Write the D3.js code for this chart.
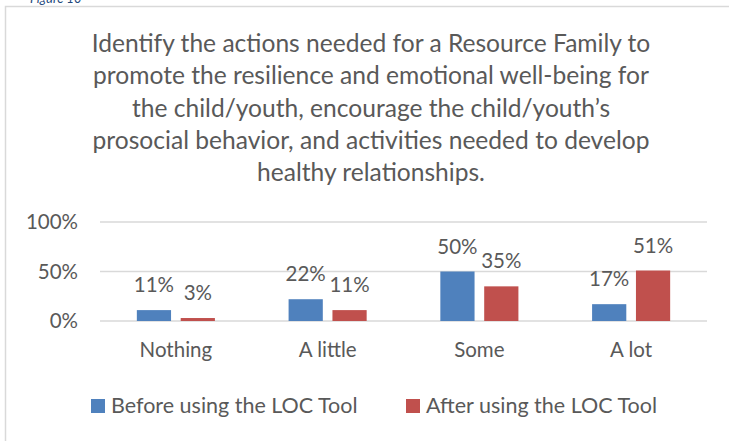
<!DOCTYPE html>
<html>
<head>
<meta charset="utf-8">
<script src="https://cdn.jsdelivr.net/npm/d3@7"></script>
<style>
  body { margin: 0; background: #fff; }
  text { font-family: Lato, "Open Sans", sans-serif; fill: #595959; }
</style>
</head>
<body>
<div id="chart"></div>
<script>
// chart data
var categories = ["Nothing", "A little", "Some", "A lot"];
var seriesNames = ["Before using the LOC Tool", "After using the LOC Tool"];
var beforeValues = [0.11, 0.22, 0.50, 0.17];
var afterValues = [0.03, 0.11, 0.35, 0.51];
var yTicks = [0, 0.5, 1];
var titleLines = [
  "Identify the actions needed for a Resource Family to",
  "promote the resilience and emotional well-being for",
  "the child/youth, encourage the child/youth\u2019s",
  "prosocial behavior, and activities needed to develop",
  "healthy relationships."
];
var colors = ["#4F81BD", "#C0504D"];

var svgWidth = 729;
var svgHeight = 441;

var margin = { top: 222, left: 100, right: 22, bottom: 120 };
var width = svgWidth - margin.left - margin.right;
var height = 321 - margin.top;

var svg = d3.select("#chart")
  .append("svg")
  .attr("width", svgWidth)
  .attr("height", svgHeight);

// chart area border
svg.append("rect")
  .attr("x", 5.5)
  .attr("y", 6.5)
  .attr("width", 760)
  .attr("height", 460)
  .attr("fill", "#fff")
  .attr("stroke", "#D9D9D9")
  .attr("stroke-width", 1.5);

// figure caption above the chart, cut off by the page edge as in the source
svg.append("text")
  .attr("x", 30)
  .attr("y", 3)
  .style("fill", "#1F497D")
  .style("font-style", "italic")
  .style("font-size", "13px")
  .text("Figure 10");

// Title
var title = svg.append("g").attr("class", "title");
var titleText = title.selectAll("text")
  .data(titleLines)
  .enter()
  .append("text")
  .attr("x", 371)
  .attr("y", (d, i) => 52 + i * 32.3)
  .attr("text-anchor", "middle")
  .style("font-size", "24px")
  .text(d => d);

// fit title width to the reference (first line spans ~559px)
var firstLen = titleText.node().getComputedTextLength();
titleText.style("font-size", (24 * 559 / firstLen) + "px");

var chartGroup = svg.append("g")
  .attr("transform", `translate(${margin.left}, ${margin.top})`);

// scales
var x0 = d3.scaleBand()
  .domain(categories)
  .range([0, width])
  .padding(0);

var x1 = d3.scaleBand()
  .domain(seriesNames)
  .range([0, x0.bandwidth()])
  .paddingInner(0.22)
  .paddingOuter(0.84);

var y = d3.scaleLinear()
  .domain([0, 1])
  .range([height, 0]);

// gridlines
chartGroup.append("g")
  .selectAll("line")
  .data(yTicks)
  .enter()
  .append("line")
  .attr("x1", 0)
  .attr("x2", width)
  .attr("y1", d => y(d))
  .attr("y2", d => y(d))
  .attr("stroke", "#D9D9D9")
  .attr("stroke-width", 1.5);

// y axis
var leftAxis = d3.axisLeft(y)
  .tickValues(yTicks)
  .tickFormat(d3.format(".0%"))
  .tickSize(0)
  .tickPadding(22);

var yAxisG = chartGroup.append("g").call(leftAxis);
yAxisG.select(".domain").remove();
yAxisG.selectAll("text")
  .style("font-size", "20.5px")
  .style("font-family", "Lato, sans-serif")
  .style("fill", "#595959");

// x axis labels
var bottomAxis = d3.axisBottom(x0).tickSize(0).tickPadding(21);
var xAxisG = chartGroup.append("g")
  .attr("transform", `translate(0, ${height})`)
  .call(bottomAxis);
xAxisG.select(".domain").remove();
xAxisG.selectAll("text")
  .style("font-size", "20.5px")
  .style("font-family", "Lato, sans-serif")
  .style("fill", "#595959");

// bars
var rows = categories.map((c, i) => ({
  category: c,
  values: [
    { name: seriesNames[0], value: beforeValues[i], color: colors[0] },
    { name: seriesNames[1], value: afterValues[i], color: colors[1] }
  ]
}));

var groups = chartGroup.selectAll(".cat")
  .data(rows)
  .enter()
  .append("g")
  .attr("class", "cat")
  .attr("transform", d => `translate(${x0(d.category)}, 0)`);

groups.selectAll("rect")
  .data(d => d.values)
  .enter()
  .append("rect")
  .attr("x", d => x1(d.name))
  .attr("y", d => y(d.value))
  .attr("width", x1.bandwidth())
  .attr("height", d => height - y(d.value))
  .attr("fill", d => d.color);

// data labels
groups.selectAll(".lbl")
  .data(d => d.values)
  .enter()
  .append("text")
  .attr("class", "lbl")
  .attr("x", d => x1(d.name) + x1.bandwidth() / 2)
  .attr("y", d => y(d.value) - 18)
  .attr("text-anchor", "middle")
  .style("font-size", "20.5px")
  .text(d => d3.format(".0%")(d.value));

// legend
var legendX = [91, 406];
var legend = svg.append("g").attr("class", "legend");
var items = legend.selectAll("g")
  .data(seriesNames)
  .enter()
  .append("g")
  .attr("transform", (d, i) => `translate(${legendX[i]}, 399)`);

items.append("rect")
  .attr("width", 14)
  .attr("height", 14)
  .attr("fill", (d, i) => colors[i]);

items.append("text")
  .attr("x", 20)
  .attr("y", 14)
  .style("font-size", "21.5px")
  .text(d => d);
</script>
</body>
</html>
